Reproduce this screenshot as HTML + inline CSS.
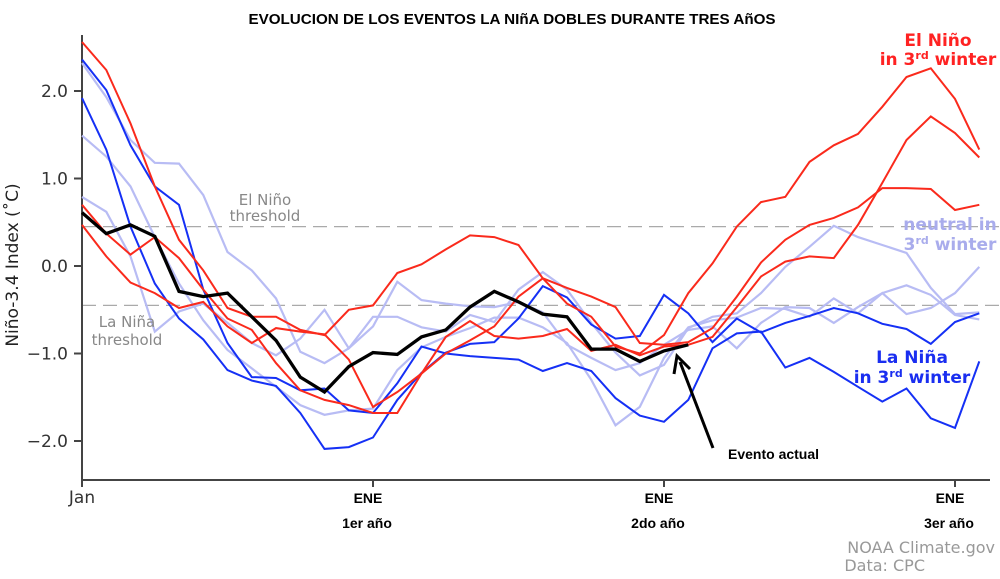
<!DOCTYPE html>
<html><head><meta charset="utf-8"><style>
body{margin:0;background:#fff;width:1000px;height:579px;overflow:hidden}
svg{display:block}
.tk{font-family:"DejaVu Sans",sans-serif;font-size:17px;fill:#333}
.b{font-family:"Liberation Sans",sans-serif;font-weight:bold;font-size:14px;fill:#000}
.th{font-family:"DejaVu Sans",sans-serif;font-size:15px;fill:#888}
.lab{font-family:"DejaVu Sans",sans-serif;font-size:17px;font-weight:bold}
</style></head><body>
<svg id="chart" width="1000" height="579">
<text x="512" y="24" text-anchor="middle" class="b" style="font-size:15.2px">EVOLUCION DE LOS EVENTOS LA NIñA DOBLES DURANTE TRES AñOS</text>
<g id="grid"></g>
<g id="axes"></g>
<g id="series"></g>
<text class="th" x="265" y="205" text-anchor="middle">El Niño</text>
<text class="th" x="265" y="221" text-anchor="middle">threshold</text>
<text class="th" x="127" y="327" text-anchor="middle">La Niña</text>
<text class="th" x="127" y="345" text-anchor="middle">threshold</text>
<text class="lab" x="938" y="46" text-anchor="middle" fill="#f22">El Niño</text>
<text class="lab" x="938" y="65" text-anchor="middle" fill="#f22">in 3<tspan font-size="11" dy="-6">rd</tspan><tspan dy="6"> winter</tspan></text>
<text class="lab" x="950" y="230" text-anchor="middle" fill="#a9acec">neutral in</text>
<text class="lab" x="950" y="250" text-anchor="middle" fill="#a9acec">3<tspan font-size="11" dy="-6">rd</tspan><tspan dy="6"> winter</tspan></text>
<text class="lab" x="912" y="363" text-anchor="middle" fill="#1a2ef0">La Niña</text>
<text class="lab" x="912" y="383" text-anchor="middle" fill="#1a2ef0">in 3<tspan font-size="11" dy="-6">rd</tspan><tspan dy="6"> winter</tspan></text>
<text class="b" x="728" y="459">Evento actual</text>
<g>
<line x1="713" y1="448" x2="680" y2="362" stroke="#000" stroke-width="3"/>
<polyline points="674,374 677,356 690,369" fill="none" stroke="#000" stroke-width="3"/>
</g>
<text x="995" y="553" text-anchor="end" class="th" style="font-size:16px;fill:#999">NOAA Climate.gov</text>
<text x="925" y="571" text-anchor="end" class="th" style="font-size:16px;fill:#999">Data: CPC</text>
<text transform="translate(18,265) rotate(-90)" text-anchor="middle" class="tk" style="fill:#222">Niño-3.4 Index (˚C)</text>
</svg>
<script>
const months = Array.from({length:38},(_,i)=>i);
const yTicks = [2.0,1.0,0.0,-1.0,-2.0];
const yTickLabels = ["2.0","1.0","0.0","\u22121.0","\u22122.0"];
const xTickMonths = [0,12,24,36];
const xTickLabels = ["Jan","ENE","ENE","ENE"];
const xTickSub = ["","1er año","2do año","3er año"];
const thresholds = [0.45,-0.45];
const elNino1 = [2.56,2.24,1.63,0.91,0.30,-0.05,-0.48,-0.58,-0.58,-0.73,-0.79,-0.50,-0.45,-0.08,0.02,0.19,0.35,0.33,0.24,-0.14,-0.43,-0.58,-0.92,-1.00,-0.79,-0.31,0.03,0.45,0.73,0.79,1.19,1.38,1.51,1.82,2.16,2.26,1.91,1.33];
const elNino2 = [0.70,0.37,0.13,0.33,0.09,-0.27,-0.60,-0.73,-1.11,-1.42,-1.53,-1.59,-1.68,-1.68,-1.23,-1.00,-0.85,-0.69,-0.35,-0.14,-0.25,-0.35,-0.47,-0.88,-0.90,-0.87,-0.71,-0.35,0.04,0.30,0.47,0.55,0.67,0.89,0.89,0.88,0.64,0.70];
const elNino3 = [0.47,0.11,-0.19,-0.31,-0.48,-0.41,-0.69,-0.88,-0.71,-0.75,-0.78,-1.07,-1.61,-1.44,-1.23,-0.81,-0.63,-0.80,-0.83,-0.80,-0.72,-0.97,-0.90,-1.02,-0.92,-0.90,-0.81,-0.47,-0.12,0.05,0.11,0.09,0.47,0.95,1.44,1.71,1.52,1.24];
const laNina1 = [2.36,2.01,1.38,0.91,0.70,-0.27,-0.88,-1.27,-1.28,-1.42,-1.40,-1.65,-1.68,-1.34,-0.92,-1.00,-1.03,-1.05,-1.07,-1.20,-1.11,-1.20,-1.51,-1.71,-1.78,-1.53,-0.94,-0.77,-0.75,-1.16,-1.05,-1.21,-1.38,-1.55,-1.40,-1.74,-1.85,-1.09];
const laNina2 = [1.92,1.33,0.45,-0.20,-0.60,-0.84,-1.19,-1.31,-1.37,-1.68,-2.09,-2.07,-1.96,-1.53,-1.22,-0.99,-0.89,-0.87,-0.60,-0.23,-0.36,-0.67,-0.83,-0.80,-0.33,-0.54,-0.87,-0.60,-0.76,-0.65,-0.57,-0.48,-0.54,-0.66,-0.72,-0.89,-0.64,-0.54];
const neutral1 = [2.32,1.93,1.44,1.18,1.17,0.81,0.16,-0.05,-0.37,-0.98,-1.11,-0.94,-0.58,-0.58,-0.70,-0.75,-0.56,-0.64,-0.27,-0.07,-0.27,-0.65,-0.99,-1.25,-1.13,-0.71,-0.58,-0.54,-0.31,-0.01,0.22,0.46,0.33,0.24,0.15,-0.25,-0.55,-0.53];
const neutral2 = [1.49,1.25,0.91,0.33,-0.20,-0.62,-0.96,-1.17,-1.38,-1.59,-1.70,-1.65,-1.63,-1.19,-0.93,-0.81,-0.71,-0.59,-0.59,-0.70,-0.88,-1.30,-1.82,-1.61,-1.05,-0.70,-0.62,-0.59,-0.48,-0.49,-0.58,-0.37,-0.54,-0.31,-0.55,-0.48,-0.31,-0.01];
const neutral3 = [0.79,0.62,0.11,-0.75,-0.52,-0.43,-0.65,-0.88,-1.02,-0.83,-0.50,-0.94,-0.69,-0.18,-0.39,-0.43,-0.46,-0.47,-0.41,-0.53,-0.90,-1.05,-1.19,-1.11,-0.90,-0.73,-0.69,-0.94,-0.65,-0.47,-0.48,-0.65,-0.47,-0.31,-0.22,-0.33,-0.56,-0.61];
const current = [0.61,0.37,0.47,0.34,-0.29,-0.35,-0.31,-0.58,-0.85,-1.27,-1.44,-1.15,-0.99,-1.01,-0.81,-0.73,-0.47,-0.29,-0.41,-0.55,-0.58,-0.95,-0.95,-1.09,-0.97,-0.90];

const NS='http://www.w3.org/2000/svg';
const X0=82, DX=24.25, Y0=266, DY=87.5;
const xs = m => X0 + m*DX;
const ys = v => Y0 - v*DY;
function mk(tag, attrs, parent){const e=document.createElementNS(NS,tag);for(const k in attrs)e.setAttribute(k,attrs[k]);parent.appendChild(e);return e;}
const grid=document.getElementById('grid'), axes=document.getElementById('axes'), ser=document.getElementById('series');
thresholds.forEach((t,i)=>{
  const l=mk('line',{x1:X0,x2:1000,y1:ys(t),y2:ys(t),stroke:'#aaa','stroke-width':1.3,'stroke-dasharray':'14 7'},grid);
  
  
});
let a=mk('line',{x1:X0,x2:X0,y1:35,y2:481,stroke:'#444','stroke-width':2},axes);


a=mk('line',{x1:X0-1,x2:990,y1:480,y2:480,stroke:'#444','stroke-width':2},axes);


yTicks.forEach((t,i)=>{
  mk('line',{x1:X0-8,x2:X0,y1:ys(t),y2:ys(t),stroke:'#444','stroke-width':2},axes);
  const tx=mk('text',{x:X0-14,y:ys(t)+6,'text-anchor':'end',class:'tk'},axes);
  tx.textContent=yTickLabels[i];
  
  
});
xTickMonths.forEach((m,i)=>{
  mk('line',{x1:xs(m),x2:xs(m),y1:480,y2:487,stroke:'#444','stroke-width':2},axes);
  const tx=mk('text',{x:xs(m)-(i===0?0:5),y:503,'text-anchor':'middle',class:i===0?'tk':'b'},axes);
  tx.textContent=xTickLabels[i];
  
  
  if(xTickSub[i]){
    const s=mk('text',{x:xs(m)-6,y:528,'text-anchor':'middle',class:'b'},axes);
    s.textContent=xTickSub[i];
    
    
  }
});
const seriesList=[
 [neutral1,'#b8bcf4',2.2,'neutral-line-1'],[neutral2,'#b8bcf4',2.2,'neutral-line-2'],[neutral3,'#b8bcf4',2.2,'neutral-line-3'],
 [laNina1,'#1530f5',2,'la-nina-line-1'],[laNina2,'#1530f5',2,'la-nina-line-2'],
 [elNino1,'#fa2a1c',2,'el-nino-line-1'],[elNino2,'#fa2a1c',2,'el-nino-line-2'],[elNino3,'#fa2a1c',2,'el-nino-line-3'],
 [current,'#000',3.3,'current-event-line']];
seriesList.forEach(s=>{
  const pts=s[0].map((v,i)=>xs(months[i]).toFixed(1)+','+ys(v).toFixed(1)).join(' ');
  const p=mk('polyline',{points:pts,fill:'none',stroke:s[1],'stroke-width':s[2],'stroke-linejoin':'miter'},ser);
  
  
});
</script>
</body></html>
